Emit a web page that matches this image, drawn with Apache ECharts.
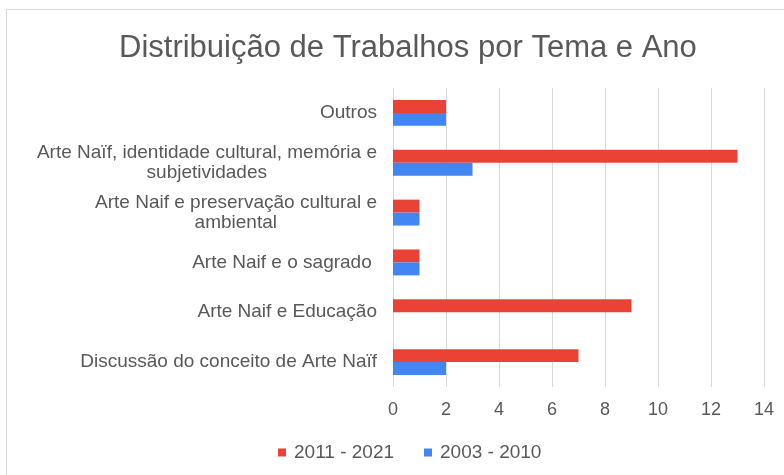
<!DOCTYPE html>
<html lang="pt">
<head>
    <meta charset="UTF-8">
    <title>Distribuição de Trabalhos por Tema e Ano</title>
    <script src="https://cdn.jsdelivr.net/npm/echarts@6/dist/echarts.min.js"></script>
    <style>
        html, body { margin: 0; padding: 0; background: #fff; }
    </style>
</head>
<body>
<div id="box1" style="width: 784px;height: 475px"></div>
<script>
    var temas = [
        'Discussão do conceito de Arte Naïf',
        'Arte Naif e Educação',
        'Arte Naif e o sagrado ',
        'Arte Naif e preservação cultural e\nambiental',
        'Arte Naïf, identidade cultural, memória e\nsubjetividades',
        'Outros'
    ];
    var serie2011 = [7, 9, 1, 1, 13, 2];
    var serie2003 = [2, 0, 1, 1, 3, 2];
    var nomes = ['2011 - 2021', '2003 - 2010'];
    var cores = ['#ea4335', '#4285f4'];

    var fonte = 'Liberation Sans, Arial, sans-serif';
    var tamLabel = 19;

    // mede as linhas de cada rótulo para centralizar as quebradas (como no Excel)
    var ctx = document.createElement('canvas').getContext('2d');
    ctx.font = tamLabel + 'px "Liberation Sans"';
    var rich = {};
    var linhas = temas.map(function (t, i) {
        var partes = t.split('\n');
        var larg = partes.map(function (s) { return ctx.measureText(s).width; });
        var max = Math.max.apply(null, larg);
        return partes.map(function (s, j) {
            var nome = 'r' + i + 'l' + j;
            var pad = Math.round((max - larg[j]) / 2);
            rich[nome] = { fontSize: tamLabel, color: '#595959', lineHeight: 20, padding: [0, pad, 0, pad] };
            return '{' + nome + '|' + s + '}';
        }).join('\n');
    });

    var mychar = echarts.init(document.getElementById('box1'));

    var option = {
        color: cores,
        textStyle: { fontFamily: fonte },
        title: {
            text: 'Distribuição de Trabalhos por Tema e Ano',
            left: 114,
            top: 28,
            textStyle: { fontSize: 31, fontWeight: 'normal', color: '#595959' }
        },
        legend: {
            data: nomes,
            bottom: 8,
            left: 273,
            itemWidth: 8,
            itemHeight: 8,
            itemGap: 30,
            icon: 'rect',
            textStyle: { fontSize: 19, color: '#595959', padding: [0, 0, 0, 3] }
        },
        grid: { left: 393, right: 20, top: 88, bottom: 88 },
        xAxis: {
            type: 'value',
            min: 0,
            max: 14,
            interval: 2,
            axisLine: { show: false },
            axisTick: { show: false },
            splitLine: { lineStyle: { color: '#d9d9d9' } },
            axisLabel: { fontSize: 18, color: '#595959', margin: 14 }
        },
        yAxis: {
            type: 'category',
            data: temas,
            axisLine: { show: false },
            axisTick: { show: false },
            axisLabel: {
                fontSize: tamLabel,
                color: '#595959',
                margin: 16,
                formatter: function (v, i) { return linhas[i]; },
                rich: rich
            }
        },
        series: [
            { name: nomes[0], type: 'bar', data: serie2011, barGap: '0%', barCategoryGap: '48%' },
            { name: nomes[1], type: 'bar', data: serie2003, barGap: '0%', barCategoryGap: '48%' }
        ],
        graphic: [{
            type: 'rect',
            shape: { x: 6.5, y: 9.5, width: 790, height: 480 },
            style: { fill: 'none', stroke: '#d9d9d9', lineWidth: 1 },
            silent: true
        }]
    };
    mychar.setOption(option);
</script>
</body>
</html>
